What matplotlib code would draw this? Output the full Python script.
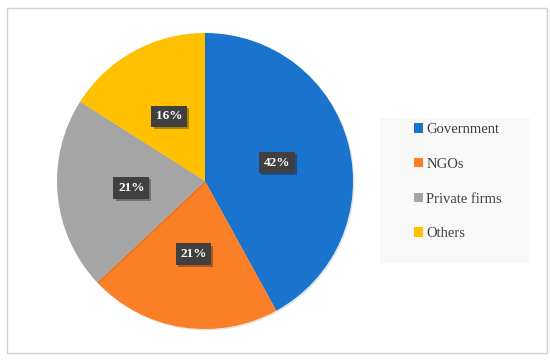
import matplotlib
matplotlib.use("Agg")
import matplotlib.pyplot as plt
import matplotlib.patheffects as pe
from matplotlib.patches import Patch, Rectangle

categories = ["Government", "NGOs", "Private firms", "Others"]
shares = [42, 21, 21, 16]
colors = ["#1a73cc", "#fb7f26", "#a5a5a5", "#ffc000"]

plt.rcParams["font.family"] = ["Liberation Serif", "DejaVu Serif"]

fig = plt.figure(figsize=(5.5, 3.61), dpi=100)
W, H = 550, 361

# outer frame
fig.patches.append(Rectangle((7 / W, 8 / H), 540 / W, 345 / H, transform=fig.transFigure,
                             facecolor="white", edgecolor="#d0d0d0", linewidth=1.0, zorder=-2))
# legend box
fig.patches.append(Rectangle((380 / W, (H - 263) / H), 150 / W, 145 / H, transform=fig.transFigure,
                             facecolor="#f8f8f8", edgecolor="none", zorder=-1))

# pie axes: centre (205, 181) px from top, radius ~148 px
r = 148
cx, cy = 205, H - 181
ax = fig.add_axes([(cx - r) / W, (cy - r) / H, 2 * r / W, 2 * r / H])
ax.patch.set_visible(False)
wedges, texts, autotexts = ax.pie(
    shares, colors=colors, startangle=90, counterclock=False,
    autopct="%d%%", pctdistance=0.5, radius=1.0,
    wedgeprops=dict(linewidth=0),
    textprops=dict(color="white", fontsize=9.5, fontweight="bold"),
)
for w in wedges:
    w.set_path_effects([pe.SimplePatchShadow(offset=(1, -1), alpha=0.12), pe.Normal()])
for t in autotexts:
    t.set_bbox(dict(boxstyle="square,pad=0.35", facecolor="#404040", edgecolor="none"))
    t.get_bbox_patch().set_path_effects([pe.SimplePatchShadow(offset=(1.5, -1.5), alpha=0.35),
                                         pe.Normal()])
ax.set_xlim(-1.0, 1.0)
ax.set_ylim(-1.0, 1.0)
ax.set_aspect("equal")

handles = [Patch(facecolor=c, edgecolor="none") for c in colors]
leg = fig.legend(handles, categories, loc="upper left",
                 bbox_to_anchor=(408 / W, (H - 117) / H),
                 frameon=False, fontsize=10.5, labelcolor="#404040",
                 handlelength=0.65, handleheight=0.65, handletextpad=0.2,
                 labelspacing=1.5, borderaxespad=0)

fig.savefig("out.png", dpi=100)
